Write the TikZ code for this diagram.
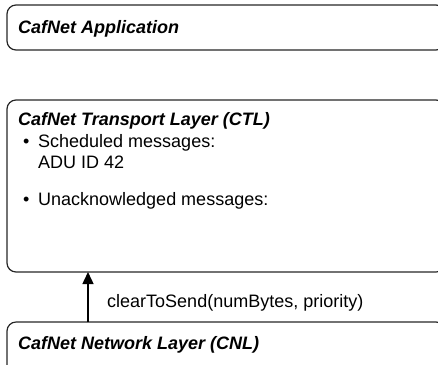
\documentclass[tikz,border=0pt]{standalone}
\usepackage{fontspec}
\setmainfont{Liberation Sans}
\usetikzlibrary{arrows.meta}

\tikzset{
  layer/.style={draw=black!85, line width=1.2bp, rounded corners=9bp,
    rectangle, inner sep=0pt, outer sep=0pt, anchor=north west},
  title/.style={anchor=base west, inner sep=0pt, font=\fontsize{18bp}{20bp}\selectfont\bfseries\itshape},
  body/.style={anchor=base west, inner sep=0pt, font=\fontsize{18bp}{20bp}\selectfont},
  call/.style={line width=1.5bp, -{Triangle[length=12bp,width=11bp]}}
}

\begin{document}
\begin{tikzpicture}[x=1bp, y=-1bp]
  \useasboundingbox (0,0) rectangle (438,364);
  \clip (0,0) rectangle (438,364);

  % layer boxes (their right and lower parts run off the page)
  \node[layer, minimum width=438bp, minimum height=45bp] (app) at (7,5) {};
  \node[layer, minimum width=438bp, minimum height=172bp] (ctl) at (7,100) {};
  \node[layer, minimum width=438bp, minimum height=60bp] (cnl) at (7,322) {};

  % box titles
  \node[title] (apptitle) at (18,33) {CafNet Application};
  \node[title] (ctltitle) at (18,125) {CafNet Transport Layer (CTL)};
  \node[title] (cnltitle) at (18,349) {CafNet Network Layer (CNL)};

  % transport layer state
  \node[body] (b1) at (23,147) {•};
  \node[body] (sched) at (38,147) {Scheduled messages:};
  \node[body] (adu) at (38,168) {ADU ID 42};
  \node[body] (b2) at (23,205) {•};
  \node[body] (unack) at (38,205) {Unacknowledged messages:};

  % upcall from the network layer
  \coordinate (ax) at (88,0);
  \draw[call] (cnl.north -| ax) -- (ctl.south -| ax);
  \node[body] (cts) at (107,307) {clearToSend(numBytes, priority)};
\end{tikzpicture}
\end{document}
